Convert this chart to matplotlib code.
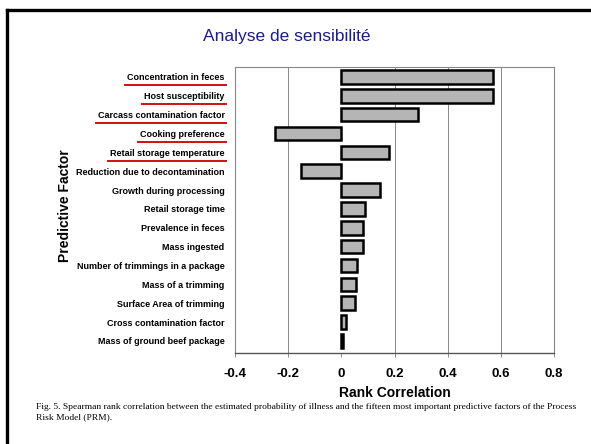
import matplotlib
matplotlib.use("Agg")
import matplotlib.pyplot as plt
from matplotlib.lines import Line2D

# Spearman rank correlations
factors = [
    "Concentration in feces",
    "Host susceptibility",
    "Carcass contamination factor",
    "Cooking preference",
    "Retail storage temperature",
    "Reduction due to decontamination",
    "Growth during processing",
    "Retail storage time",
    "Prevalence in feces",
    "Mass ingested",
    "Number of trimmings in a package",
    "Mass of a trimming",
    "Surface Area of trimming",
    "Cross contamination factor",
    "Mass of ground beef package",
]
correlations = [0.57, 0.57, 0.29, -0.25, 0.18, -0.15, 0.145, 0.09, 0.08, 0.08,
                0.06, 0.055, 0.05, 0.017, 0.005]
underlined = factors[:5]
xticks = [-0.4, -0.2, 0, 0.2, 0.4, 0.6, 0.8]
xtick_labels = ["-0.4", "-0.2", "0", "0.2", "0.4", "0.6", "0.8"]

W, H = 591, 444
fig = plt.figure(figsize=(W / 100, H / 100), dpi=100)
fig.patch.set_facecolor("white")

# slide frame (top and left edges only)
fig.add_artist(Line2D([7 / W, 1], [1 - 10 / H, 1 - 10 / H], color="black", lw=2.4,
                      transform=fig.transFigure))
fig.add_artist(Line2D([7 / W, 7 / W], [0, 1 - 10 / H], color="black", lw=2.4,
                      transform=fig.transFigure))

fig.text(287 / W, 1 - 36 / H, "Analyse de sensibilité", ha="center", va="center",
         fontsize=12.5, color="#1c1c8c", family="Liberation Sans")

left, right, top, bottom = 235, 554, 67, 353
ax = fig.add_axes([left / W, 1 - bottom / H, (right - left) / W, (bottom - top) / H])

ypos = list(range(len(factors)))
ax.barh(ypos, correlations, height=0.72, color="#b5b5b5", edgecolor="black",
        linewidth=1.8, zorder=3)

ax.set_xlim(-0.4, 0.8)
ax.set_ylim(len(factors) - 0.36, -0.53)
ax.set_xticks(xticks)
ax.set_xticklabels(xtick_labels, fontsize=9.5, fontweight="bold", family="Liberation Sans")
ax.set_yticks(ypos)
ax.set_yticklabels(factors, fontsize=6.5, fontweight="bold", family="Liberation Sans")
ax.tick_params(axis="y", length=0, pad=7.5)
ax.tick_params(axis="x", length=3, width=0.6, color="#777777", pad=8)

for x in [-0.2, 0.2, 0.4, 0.6]:
    ax.axvline(x, color="#888888", lw=0.7, zorder=1)
for s in ax.spines.values():
    s.set_color("#888888")
    s.set_linewidth(0.8)
ax.spines["bottom"].set_color("#555555")
ax.spines["bottom"].set_linewidth(1.0)

ax.set_xlabel("Rank Correlation", fontsize=10, fontweight="bold", family="Liberation Sans",
              labelpad=4)
fig.text(65 / W, 1 - 206 / H, "Predictive Factor", rotation=90, ha="center", va="center",
         fontsize=10, fontweight="bold", family="Liberation Sans")

# red underlines below the five main factors
fig.canvas.draw()
renderer = fig.canvas.get_renderer()
for lab in ax.get_yticklabels():
    if lab.get_text() in underlined:
        bb = lab.get_window_extent(renderer)
        y = bb.y0 - 3
        fig.add_artist(Line2D([(bb.x0 - 2) / W, (bb.x1 + 1) / W], [y / H, y / H],
                              color="#d01010", lw=1.4, transform=fig.transFigure))

caption = ("Fig. 5. Spearman rank correlation between the estimated probability of illness "
           "and the fifteen most important predictive factors of the Process\nRisk Model (PRM).")
fig.text(36 / W, 1 - 412 / H, caption, ha="left", va="center", fontsize=6.8,
         family="Liberation Serif", linespacing=1.45)

fig.savefig("out.png", dpi=100)
